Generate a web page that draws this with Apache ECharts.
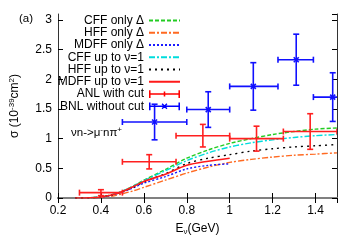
<!DOCTYPE html>
<html>
<head>
<meta charset="utf-8">
<script src="https://cdn.jsdelivr.net/npm/echarts@6/dist/echarts.min.js"></script>
<style>html,body{margin:0;padding:0;background:#fff}#c{width:348px;height:244px}</style>
</head>
<body>
<div id="c"></div>
<script>
// ---- data ----
const curveX       = [0.28, 0.35, 0.40, 0.45, 0.50, 0.55, 0.60, 0.70, 0.80, 0.90, 1.00, 1.10, 1.20, 1.30, 1.40, 1.50];
const cffOnlyDelta = [0, 0.005, 0.02, 0.055, 0.115, 0.20, 0.30, 0.48, 0.67, 0.81, 0.92, 1.00, 1.07, 1.12, 1.16, 1.18];
const hffOnlyDelta = [0, 0.001, 0.01, 0.03, 0.07, 0.12, 0.18, 0.30, 0.42, 0.52, 0.60, 0.65, 0.69, 0.72, 0.74, 0.76];
const mdffOnlyDelta= [0, 0.004, 0.015, 0.045, 0.10, 0.17, 0.25, 0.36, 0.49, 0.55, 0.575];
const cffUpToNu1   = [0, 0.005, 0.02, 0.055, 0.115, 0.20, 0.29, 0.46, 0.63, 0.76, 0.86, 0.93, 0.98, 1.02, 1.05, 1.07];
const hffUpToNu1   = [0, 0.004, 0.017, 0.05, 0.105, 0.18, 0.27, 0.41, 0.58, 0.67, 0.73, 0.79, 0.83, 0.86, 0.88, 0.90];
const mdffUpToNu1  = [0, 0.005, 0.018, 0.05, 0.11, 0.19, 0.28, 0.40, 0.55, 0.62, 0.67];

const anlX   = [0.40, 0.625, 0.875, 1.125, 1.375];
const anlXlo = [0.30, 0.50, 0.75, 1.00, 1.25];
const anlXhi = [0.50, 0.75, 1.00, 1.25, 1.50];
const anlY   = [0.09, 0.61, 1.05, 1.00, 1.12];
const anlErr = [0.05, 0.12, 0.19, 0.21, 0.30];

const bnlX   = [0.65, 0.90, 1.11, 1.31, 1.48];
const bnlXlo = [0.50, 0.80, 1.00, 1.225, 1.39];
const bnlXhi = [0.80, 1.00, 1.225, 1.39, 1.60];
const bnlY   = [1.28, 1.49, 1.88, 2.33, 1.70];
const bnlErr = [0.30, 0.30, 0.40, 0.43, 0.41];

const xTicks = [0.2, 0.4, 0.6, 0.8, 1.0, 1.2, 1.4];
const yTicks = [0, 0.5, 1, 1.5, 2, 2.5, 3];

// ---- build ----
const FONT = 'Liberation Sans';
function pairs(ys) { return ys.map((v, i) => [curveX[i], v]); }
function errData(xs, lo, hi, ys, es) { return xs.map((x, i) => [x, ys[i], lo[i], hi[i], ys[i] - es[i], ys[i] + es[i]]); }

function errRender(color, cross) {
  return function (params, api) {
    const x = api.value(0), y = api.value(1);
    const c = api.coord([x, y]);
    const l = api.coord([api.value(2), y]);
    const r = api.coord([api.value(3), y]);
    const b = api.coord([x, api.value(4)]);
    const t = api.coord([x, api.value(5)]);
    const cap = 3;
    const st = { stroke: color, lineWidth: 1.6, fill: null };
    const kids = [
      { type: 'line', shape: { x1: l[0], y1: c[1], x2: r[0], y2: c[1] }, style: st },
      { type: 'line', shape: { x1: l[0], y1: c[1] - cap, x2: l[0], y2: c[1] + cap }, style: st },
      { type: 'line', shape: { x1: r[0], y1: c[1] - cap, x2: r[0], y2: c[1] + cap }, style: st },
      { type: 'line', shape: { x1: c[0], y1: t[1], x2: c[0], y2: b[1] }, style: st },
      { type: 'line', shape: { x1: c[0] - cap, y1: t[1], x2: c[0] + cap, y2: t[1] }, style: st },
      { type: 'line', shape: { x1: c[0] - cap, y1: b[1], x2: c[0] + cap, y2: b[1] }, style: st }
    ];
    if (cross) {
      const s = 2.5;
      kids.push({ type: 'line', shape: { x1: c[0] - s, y1: c[1] - s, x2: c[0] + s, y2: c[1] + s }, style: st });
      kids.push({ type: 'line', shape: { x1: c[0] - s, y1: c[1] + s, x2: c[0] + s, y2: c[1] - s }, style: st });
    }
    return { type: 'group', children: kids };
  };
}

function lineSeries(name, ys, color, type, width) {
  return {
    name: name, type: 'line', data: pairs(ys), symbol: 'none', smooth: 0.3,
    lineStyle: { color: color, width: width || 1.4, type: type },
    itemStyle: { color: color }, z: 2
  };
}

const iconANL = 'path://M0 3.2H32V4.8H0Z M0 0H1.6V8H0Z M30.4 0H32V8H30.4Z M15.2 1.5H16.8V6.5H15.2Z';
const iconBNL = 'path://M0 3.2H32V4.8H0Z M0 0H1.6V8H0Z M30.4 0H32V8H30.4Z M13 2L14 1L19 6L18 7Z M18 1L19 2L14 7L13 6Z';

const names = ['CFF only Δ', 'HFF only Δ', 'MDFF only Δ', 'CFF up to ν=1', 'HFF up to ν=1', 'MDFF up to ν=1', 'ANL with cut', 'BNL without cut'];
const hideSym = { opacity: 0 };

const axisCommonX = {
  type: 'value', min: 0.2, max: 1.5, interval: 0.2,
  splitLine: { show: false },
  axisLine: { lineStyle: { color: '#808080', width: 2 } },
  axisTick: { inside: true, length: 5, lineStyle: { color: '#000', width: 1 } }
};
const axisCommonY = {
  type: 'value', min: 0, max: 3.1, interval: 0.5,
  splitLine: { show: false },
  axisLine: { lineStyle: { color: '#333', width: 1 } },
  axisTick: { inside: true, length: 5, lineStyle: { color: '#000', width: 1 } }
};

const option = {
  animation: false,
  backgroundColor: '#fff',
  textStyle: { fontFamily: FONT },
  title: { text: '(a)', left: 14, top: 8, textStyle: { fontFamily: FONT, fontSize: 11.5, fontWeight: 'normal', color: '#000' } },
  grid: { left: 57, right: 11, top: 14, bottom: 46 },
  legend: {
    orient: 'vertical', align: 'right', right: 167, top: 14.5, padding: 0,
    itemWidth: 31, itemHeight: 8, itemGap: 0.25,
    textStyle: { fontFamily: FONT, fontSize: 12, color: '#000', lineHeight: 11 },
    data: [
      { name: names[0], itemStyle: hideSym }, { name: names[1], itemStyle: hideSym },
      { name: names[2], itemStyle: hideSym }, { name: names[3], itemStyle: hideSym },
      { name: names[4], itemStyle: hideSym }, { name: names[5], itemStyle: hideSym },
      { name: names[6], icon: iconANL, itemStyle: { color: '#ff0000' } },
      { name: names[7], icon: iconBNL, itemStyle: { color: '#0000ff' } }
    ]
  },
  xAxis: [
    Object.assign({}, axisCommonX, {
      position: 'bottom',
      axisLabel: { showMaxLabel: false, margin: 7, color: '#000', fontSize: 12, fontFamily: FONT,
        formatter: v => xTicks.some(t => Math.abs(t - v) < 1e-6) ? String(+v.toFixed(1)) : '' },
      name: 'E{sub|ν}(GeV)', nameLocation: 'middle', nameGap: 20,
      nameTextStyle: { color: '#000', fontSize: 12, fontFamily: FONT, lineHeight: 14,
        rich: { sub: { fontSize: 8, verticalAlign: 'bottom', fontFamily: FONT, color: '#000', padding: [6, 0, 0, 0] } } }
    }),
    Object.assign({}, axisCommonX, { position: 'top', axisLabel: { show: false } })
  ],
  yAxis: [
    Object.assign({}, axisCommonY, {
      position: 'left',
      axisLabel: { showMaxLabel: false, margin: 6, color: '#000', fontSize: 12, fontFamily: FONT,
        formatter: v => yTicks.some(t => Math.abs(t - v) < 1e-6) ? String(+v.toFixed(1)) : '' },
      name: 'σ (10{sup|-39}cm{sup|2})', nameLocation: 'middle', nameRotate: 90, nameGap: 36,
      nameTextStyle: { color: '#000', fontSize: 12, fontFamily: FONT, lineHeight: 14,
        rich: { sup: { fontSize: 8, verticalAlign: 'top', fontFamily: FONT, color: '#000', padding: [0, 0, 6, 0] } } }
    }),
    Object.assign({}, axisCommonY, { position: 'right', axisLabel: { show: false } })
  ],
  graphic: [{
    type: 'text', left: 71, top: 126, z: 10,
    style: {
      text: 'νn->μ{sup|-}nπ{sup|+}', fontFamily: FONT, fontSize: 11.5, fill: '#000',
      rich: { sup: { fontSize: 8, verticalAlign: 'top', padding: [0, 0, 5, 0], fontFamily: FONT } }
    }
  }],
  series: [
    lineSeries(names[0], cffOnlyDelta, '#22cc22', [4, 2]),
    lineSeries(names[1], hffOnlyDelta, '#ff6a22', [6, 2, 2, 2]),
    lineSeries(names[2], mdffOnlyDelta, '#1a1aff', [2, 2]),
    lineSeries(names[3], cffUpToNu1, '#00dddd', [6, 2, 2, 2]),
    lineSeries(names[4], hffUpToNu1, '#000000', [2, 4]),
    lineSeries(names[5], mdffUpToNu1, '#ff1a1a', 'solid', 1.6),
    {
      name: names[6], type: 'custom', clip: true, z: 3,
      itemStyle: { color: '#ff0000' },
      encode: { x: 0, y: 1 },
      data: errData(anlX, anlXlo, anlXhi, anlY, anlErr),
      renderItem: errRender('#ff2020', false)
    },
    {
      name: names[7], type: 'custom', clip: true, z: 3,
      itemStyle: { color: '#0000ff' },
      encode: { x: 0, y: 1 },
      data: errData(bnlX, bnlXlo, bnlXhi, bnlY, bnlErr),
      renderItem: errRender('#1010ff', true)
    }
  ]
};

const chart = echarts.init(document.getElementById('c'), null, { renderer: 'canvas' });
chart.setOption(option);
</script>
</body>
</html>
